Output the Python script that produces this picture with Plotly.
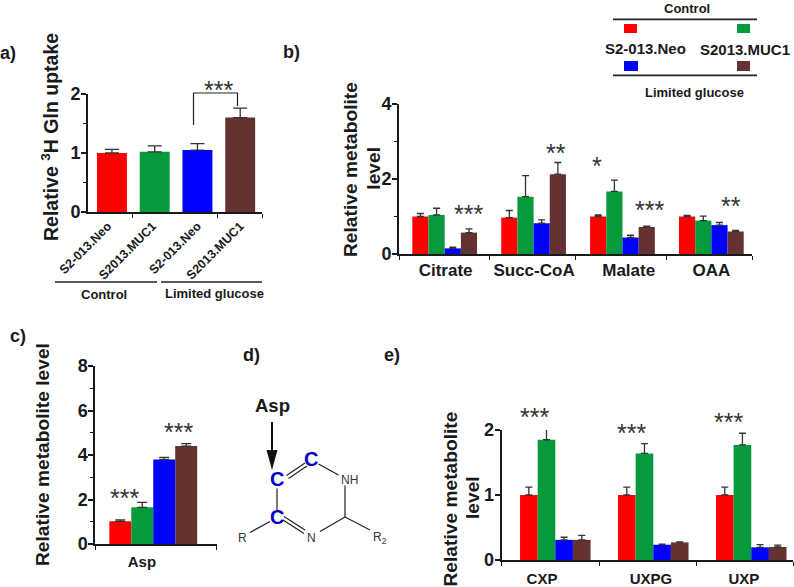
import plotly.graph_objects as go

W, H = 794, 587
COLORS = ["#ff0000", "#069a3c", "#0000ff", "#653232"]
SERIES = ["Control S2-013.Neo", "Control S2013.MUC1", "Limited glucose S2-013.Neo", "Limited glucose S2013.MUC1"]
INK = "#1a1a1a"
FONT = "Liberation Sans"

# panel a
a_labels = ["S2-013.Neo", "S2013.MUC1", "S2-013.Neo", "S2013.MUC1"]
a_values = [1.0, 1.02, 1.05, 1.6]
a_err = [0.06, 0.10, 0.11, 0.16]

# panel b
b_groups = ["Citrate", "Succ-CoA", "Malate", "OAA"]
b_values = [
    [1.0, 0.97, 1.0, 1.0],
    [1.04, 1.53, 1.67, 0.89],
    [0.15, 0.82, 0.44, 0.77],
    [0.57, 2.13, 0.72, 0.60],
]
b_err = [
    [0.08, 0.19, 0.04, 0.03],
    [0.18, 0.56, 0.30, 0.12],
    [0.03, 0.09, 0.06, 0.07],
    [0.10, 0.31, 0.02, 0.03],
]

# panel c
c_labels = ["Asp"]
c_values = [1.02, 1.65, 3.8, 4.4]
c_err = [0.06, 0.22, 0.09, 0.11]

# panel e
e_groups = ["CXP", "UXPG", "UXP"]
e_values = [
    [1.0, 1.0, 1.0],
    [1.85, 1.64, 1.77],
    [0.31, 0.235, 0.195],
    [0.31, 0.27, 0.20],
]
e_err = [
    [0.12, 0.12, 0.12],
    [0.19, 0.15, 0.18],
    [0.04, 0.01, 0.04],
    [0.07, 0.01, 0.03],
]


def fx(x):
    return x / W


def fy(y):
    return 1 - y / H


fig = go.Figure()
annotations = []
shapes = []


def text(x, y, s, size=15, bold=True, color=INK, angle=0, xanchor="center"):
    annotations.append(dict(
        x=fx(x), y=fy(y), xref="paper", yref="paper", showarrow=False,
        text=f"<b>{s}</b>" if bold else s, textangle=angle, xanchor=xanchor, yanchor="middle",
        font=dict(family=FONT, size=size, color=color), align="center",
    ))


def line(x0, y0, x1, y1, width=1.2, color="#222222"):
    shapes.append(dict(type="line", xref="paper", yref="paper", x0=fx(x0), x1=fx(x1),
                       y0=fy(y0), y1=fy(y1), line=dict(color=color, width=width)))


def rect(x0, y0, x1, y1, color):
    shapes.append(dict(type="rect", xref="paper", yref="paper", x0=fx(x0), x1=fx(x1),
                       y0=fy(y0), y1=fy(y1), fillcolor=color, line=dict(width=0)))


def stars(x, y, s):
    text(x, y, s, size=25, bold=False, color="#333333")


def bolded(labels):
    return [f"<b>{s}</b>" for s in labels]


def add_axes(n, left, right, top, bottom, xrange, yrange, ydtick, yminor, tickvals, ticktext,
             xminor, tickfont, ynum, angle=0, standoff=2, ystandoff=-3):
    xname = f"xaxis{n}"
    yname = f"yaxis{n}"
    y_minor = dict(ticks="outside", ticklen=3, tickwidth=1.2, tickcolor=INK, dtick=yminor, showgrid=False) if yminor else dict(ticks="")
    fig.layout[xname] = dict(
        domain=[fx(left), fx(right)], range=xrange, anchor=f"y{n}", showgrid=False, zeroline=False,
        showline=True, linecolor=INK, linewidth=2, tickmode="array", tickvals=tickvals, ticktext=ticktext,
        ticks="", tickangle=angle, ticklabelstandoff=standoff,
        tickfont=dict(family=FONT, size=tickfont, color=INK),
        minor=dict(ticks="outside", ticklen=4, tickwidth=1.2, tickcolor=INK, tickmode="array", tickvals=xminor, showgrid=False),
    )
    fig.layout[yname] = dict(
        domain=[fy(bottom), fy(top)], range=yrange, anchor=f"x{n}", showgrid=False, zeroline=False,
        showline=True, linecolor=INK, linewidth=2, dtick=ydtick, tick0=0, ticks="outside", ticklen=5,
        tickwidth=1.5, tickcolor=INK, tickfont=dict(family=FONT, size=ynum, color=INK),
        ticklabelstandoff=ystandoff,
        minor=y_minor, tickprefix="<b>", ticksuffix="</b>",
    )


def add_group_bars(n, groups_x, values, errs, bw):
    for i, (vals, errv) in enumerate(zip(values, errs)):
        fig.add_trace(go.Bar(
            x=groups_x, y=vals, width=bw, offset=(i - 2) * bw, name=SERIES[i],
            marker=dict(color=COLORS[i], line=dict(width=0)), cliponaxis=False,
            error_y=dict(type="data", array=errv, symmetric=False, arrayminus=[0] * len(vals),
                         color="#333333", thickness=1.3, width=3.5),
            xaxis=f"x{n}", yaxis=f"y{n}", showlegend=False,
        ))


def add_single_bars(n, values, errs, bw):
    for i in range(4):
        fig.add_trace(go.Bar(
            x=[0], y=[values[i]], width=bw, offset=(i - 2) * bw, name=SERIES[i],
            marker=dict(color=COLORS[i], line=dict(width=0)), cliponaxis=False,
            error_y=dict(type="data", array=[errs[i]], symmetric=False, arrayminus=[0],
                         color="#333333", thickness=1.3, width=5),
            xaxis=f"x{n}", yaxis=f"y{n}", showlegend=False,
        ))


# ---- panel a
for i in range(4):
    fig.add_trace(go.Bar(
        x=[i], y=[a_values[i]], width=0.7, name=SERIES[i],
        marker=dict(color=COLORS[i], line=dict(width=0)), cliponaxis=False,
        error_y=dict(type="data", array=[a_err[i]], symmetric=False, arrayminus=[0],
                     color="#333333", thickness=1.3, width=7),
        xaxis="x", yaxis="y", showlegend=False,
    ))
add_axes("", 88, 262, 94, 212, [-0.56, 3.51], [0, 2], 1, 0.5, [-0.1, 0.95, 2.0, 3.0], bolded(a_labels),
         [0.47, 2.48, 3.51], 12.5, 18, angle=-45, standoff=0)
text(8, 53, "a)", size=18)
text(50, 137, "Relative <sup>3</sup>H Gln uptake", size=19.5, angle=-90)
line(55, 282, 157, 282, 1.6)
line(161, 282, 262, 282, 1.6)
text(104, 295, "Control", size=13)
text(214, 294, "Limited glucose", size=13)
shapes.append(dict(type="path", xref="paper", yref="paper",
                   path=f"M {fx(193.5)} {fy(125)} L {fx(193.5)} {fy(93)} L {fx(237.5)} {fy(93)} L {fx(237.5)} {fy(106)}",
                   line=dict(color="#222222", width=1.2)))
stars(218, 90, "***")

# ---- panel b
add_group_bars(2, [0, 1, 2, 3], b_values, b_err, 0.182)
add_axes(2, 399, 752, 104, 254, [-0.514, 3.457], [0, 4], 2, 1, [0.01, 1.005, 2.07, 3.0], bolded(b_groups),
         [-0.514, 0.5, 1.47, 2.5, 3.457], 17, 18, standoff=0)
text(291, 52, "b)", size=18)
text(350, 170, "Relative metabolite", size=19.2, angle=-90)
text(372.7, 168, "level", size=19.2, angle=-90)
stars(469, 214, "***")
stars(556, 153, "**")
stars(597, 166, "*")
stars(649, 210, "***")
stars(731, 206, "**")

# legend block
line(613, 19.3, 757, 19.3, 1.8)
line(613, 75.3, 757, 75.3, 1.8)
text(687, 8, "Control", size=13)
text(694, 92, "Limited glucose", size=13)
text(645, 49, "S2-013.Neo", size=15)
text(745, 50, "S2013.MUC1", size=15)
rect(624, 24, 637, 33, COLORS[0])
rect(737, 24, 750, 33, COLORS[1])
rect(624, 61, 638, 71, COLORS[2])
rect(737, 61, 750, 71, COLORS[3])

# ---- panel c
add_single_bars(3, c_values, c_err, 0.18)
add_axes(3, 95.3, 216.7, 366, 544, [-0.475, 0.52], [0, 8], 2, 1, [-0.093], bolded(c_labels),
         [-0.475, 0.52], 15, 18, standoff=3)
text(18, 336, "c)", size=18)
text(42, 455, "Relative metabolite level", size=19.2, angle=-90)
stars(125, 498, "***")
stars(178, 432, "***")

# ---- panel d
text(251, 355, "d)", size=18)
text(272.7, 405, "Asp", size=18.5)
line(272, 422, 272, 462, 2, "#111111")
shapes.append(dict(type="path", xref="paper", yref="paper", fillcolor="#111111", line=dict(width=0),
                   path=f"M {fx(266.5)} {fy(450)} L {fx(277.5)} {fy(450)} L {fx(272)} {fy(470)} Z"))
text(277, 479, "C", size=20, color="#0000cc")
text(310.7, 459, "C", size=20, color="#0000cc")
text(277, 517, "C", size=20, color="#0000cc")
text(349, 480, "NH", size=12, bold=False, color="#333333")
text(311, 537.5, "N", size=12, bold=False, color="#333333")
text(243, 537.5, "R", size=12, bold=False, color="#333333")
text(380, 538, "R<sub>2</sub>", size=12, bold=False, color="#333333")
line(286.5, 475.5, 305, 463)
line(288.5, 478.5, 307, 466)
line(318.5, 464, 338.5, 475)
line(345, 485.5, 345, 517)
line(345, 517, 320, 531.5)
line(284, 516.5, 305, 530)
line(283, 520, 304, 533.5)
line(277, 488.5, 277, 510)
line(250, 532.5, 270, 521.5)
line(345, 517, 370, 530)

# ---- panel e
add_group_bars(4, [0, 1, 2], e_values, e_err, 0.18)
add_axes(4, 501.7, 793, 430, 560, [-0.547, 2.426], [0, 2], 1, None, [-0.136, 0.977, 1.925], bolded(e_groups),
         [-0.547, 0.447, 1.436, 2.426], 15, 18, standoff=4)
text(392, 355, "e)", size=18)
text(450, 499.5, "Relative metabolite", size=19.2, angle=-90)
text(472, 497, "level", size=19.2, angle=-90)
stars(534, 417, "***")
stars(631, 433, "***")
stars(728, 422, "***")

fig.update_layout(
    width=W, height=H, margin=dict(l=0, r=0, t=0, b=0, autoexpand=False), paper_bgcolor="white", plot_bgcolor="white",
    barmode="overlay", showlegend=False, annotations=annotations, shapes=shapes,
    font=dict(family=FONT, color=INK),
)
fig.write_html("out.html", config={"displayModeBar": False},
               post_script="document.body.style.margin='0';document.body.style.overflow='hidden';")
